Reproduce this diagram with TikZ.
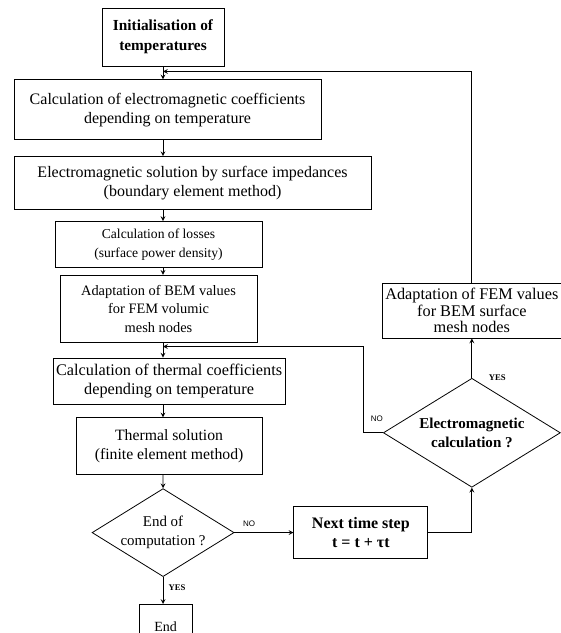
\documentclass[tikz,border=0pt]{standalone}
\usepackage{fontspec}
\setmainfont{Liberation Serif}
\setsansfont{Liberation Sans}
\usetikzlibrary{positioning,shapes.geometric}

\newcommand{\fsz}[2]{\fontsize{#1}{#2}\selectfont}

\tikzset{
  caja/.style={draw, rectangle, align=center, inner sep=1pt, line width=0.6pt},
  rombo/.style={draw, diamond, aspect=1.6, align=center, inner sep=-2pt, line width=0.6pt},
  etiqsi/.style={font=\bfseries\fsz{6.5}{7}, inner sep=1pt},
  etiqno/.style={font=\sffamily\fsz{6}{7}, inner sep=1pt},
  flecha/.style={->, >=stealth, line width=0.6pt}
}

\begin{document}
\begin{tikzpicture}[x=0.75pt, y=0.75pt]
  \useasboundingbox (0,0) rectangle (561,-633);

  % Nodos
  \node[caja, minimum width=91.5pt, minimum height=43.5pt, font=\bfseries\fsz{11.5}{15}] (init) at (163,-37) {Initialisation of\\temperatures};
  \node[caja, minimum width=230.25pt, minimum height=45pt, font=\fsz{12}{14}] (calcem) [below=9.75pt of init, xshift=3.4pt] {Calculation of electromagnetic coefficients\\depending on temperature};
  \node[caja, minimum width=267.75pt, minimum height=39.75pt, font=\fsz{12}{14.5}] (emsol) [below=12pt of calcem, xshift=18.75pt] {Electromagnetic solution by surface impedances\\(boundary element method)};
  \node[caja, minimum width=155.25pt, minimum height=34.5pt, font=\fsz{10.2}{14}] (losses) [below=8.25pt of emsol, xshift=-25.5pt] {Calculation of losses\\(surface power density)};
  \node[caja, minimum width=147.75pt, minimum height=50.25pt, font=\fsz{10.8}{14}] (adaptbem) [below=5.25pt of losses] {Adaptation of BEM values\\for FEM volumic\\mesh nodes};
  \node[caja, minimum width=174pt, minimum height=34.5pt, font=\fsz{12.2}{14}] (calcth) [below=11.25pt of adaptbem, xshift=7.9pt] {Calculation of thermal coefficients\\depending on temperature};
  \node[caja, minimum width=139.5pt, minimum height=42.75pt, font=\fsz{11.8}{14.5}] (thsol) [below=9.75pt of calcth] {Thermal solution\\(finite element method)};
  \node[rombo, minimum width=106.5pt, minimum height=66pt, font=\fsz{11.2}{14.5}] (endc) [below=9.75pt of thsol, xshift=-4.5pt] {End of\\computation ?};
  \node[caja, minimum width=39.75pt, minimum height=33.75pt, font=\fsz{10.5}{12}] (endbox) [below=20.25pt of endc, xshift=1.9pt] {End};
  \node[caja, minimum width=100.5pt, minimum height=39pt, font=\bfseries\fsz{12}{13.7}] (next) [right=44.25pt of endc] {Next time step\\t = t + τt};
  \node[rombo, minimum width=132.75pt, minimum height=81.75pt, font=\bfseries\fsz{11.3}{13.7}] (emcalc) [above=13.9pt of next, xshift=83.25pt] {Electromagnetic\\calculation ?};
  \node[caja, minimum width=134.25pt, minimum height=41.25pt, font=\fsz{12.2}{12.6}] (adaptfem) [above=29.6pt of emcalc] {Adaptation of FEM values\\for BEM surface\\mesh nodes};

  \coordinate (j1) at ([yshift=-3.75pt]init.south);
  \coordinate (j2) at ([yshift=-3pt]adaptbem.south -| init);

  % Conexiones
  \draw[flecha] (init) -- (init |- calcem.north);
  \draw[flecha] (calcem.south -| init) -- (init |- emsol.north);
  \draw[flecha] (emsol.south -| init) -- (init |- losses.north);
  \draw[flecha] (losses.south -| init) -- (init |- adaptbem.north);
  \draw[flecha] (adaptbem.south -| init) -- (init |- calcth.north);
  \draw[flecha] (calcth.south -| init) -- (init |- thsol.north);
  \draw[flecha] (thsol.south -| init) -- (endc);
  \draw[flecha] (endc) -- (endc |- endbox.north);
  \draw[flecha] (endc.east) -- (next);
  \draw[flecha] (next.east) -| (emcalc.south);
  \draw[flecha] (emcalc.north) -- (adaptfem.south);
  \draw[flecha] (adaptfem.north) |- (j1);
  \draw[flecha] (emcalc.west) -- ++(-15pt,0) |- (j2);

  % Etiquetas
  \node[etiqsi] at ([xshift=10.5pt, yshift=-8pt]endc.south) {YES};
  \node[etiqno] at ([xshift=11pt, yshift=6.5pt]endc.east) {NO};
  \node[etiqsi] at ([xshift=19pt, yshift=0pt]emcalc.north) {YES};
  \node[etiqno] at ([xshift=-4.5pt, yshift=10.5pt]emcalc.west) {NO};
\end{tikzpicture}
\end{document}
